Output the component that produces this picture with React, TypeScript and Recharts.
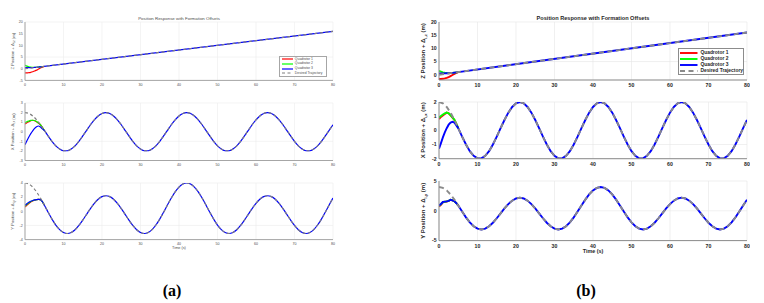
import { LineChart, Line, XAxis, YAxis, CartesianGrid } from "recharts";

// shared categories and labels
const timeTicks = [0, 10, 20, 30, 40, 50, 60, 70, 80];
const seriesNames = ["Quadrotor 1", "Quadrotor 2", "Quadrotor 3", "Desired Trajectory"];
const seriesColors = ["#ff0000", "#00ff00", "#0000ff", "#808080"];

// desired trajectories, read every second
const timeGrid = [
  0, 1, 2, 3, 4, 5, 6, 7, 8, 9, 10, 11, 12, 13, 14, 15, 16, 17, 18, 19, 20,
  21, 22, 23, 24, 25, 26, 27, 28, 29, 30, 31, 32, 33, 34, 35, 36, 37, 38, 39, 40,
  41, 42, 43, 44, 45, 46, 47, 48, 49, 50, 51, 52, 53, 54, 55, 56, 57, 58, 59, 60,
  61, 62, 63, 64, 65, 66, 67, 68, 69, 70, 71, 72, 73, 74, 75, 76, 77, 78, 79, 80,
];
const xDesired = [
  2.0, 1.91, 1.65, 1.25, 0.73, 0.15, -0.44, -1.0, -1.47, -1.8, -1.98, -1.98, -1.8, -1.47, -1.0, -0.44, 0.15, 0.73, 1.25, 1.65, 1.91,
  2.0, 1.91, 1.65, 1.25, 0.73, 0.15, -0.44, -1.0, -1.47, -1.8, -1.98, -1.98, -1.8, -1.47, -1.0, -0.44, 0.15, 0.73, 1.25, 1.65, 1.91,
  2.0, 1.91, 1.65, 1.25, 0.73, 0.15, -0.44, -1.0, -1.47, -1.8, -1.98, -1.98, -1.8, -1.47, -1.0, -0.44, 0.15, 0.73, 1.25, 1.65, 1.91,
  2.0, 1.91, 1.65, 1.25, 0.73, 0.15, -0.44, -1.0, -1.47, -1.8, -1.98, -1.98, -1.8, -1.47, -1.0, -0.44, 0.15, 0.73,
];
const yDesired = [
  4.0, 3.85, 3.42, 2.74, 1.87, 0.89, -0.13, -1.1, -1.94, -2.59, -3.0, -3.14, -2.99, -2.6, -2.0, -1.25, -0.43, 0.39, 1.12, 1.7, 2.07,
  2.2, 2.07, 1.7, 1.12, 0.39, -0.43, -1.25, -2.0, -2.6, -2.99, -3.14, -3.0, -2.59, -1.94, -1.1, -0.13, 0.89, 1.87, 2.74, 3.42, 3.85,
  4.0, 3.85, 3.42, 2.74, 1.87, 0.89, -0.13, -1.1, -1.94, -2.59, -3.0, -3.14, -2.99, -2.6, -2.0, -1.25, -0.43, 0.39, 1.12, 1.7, 2.07,
  2.2, 2.07, 1.7, 1.12, 0.39, -0.43, -1.25, -2.0, -2.6, -2.99, -3.14, -3.0, -2.59, -1.94, -1.1, -0.13, 0.89, 1.87,
];
const zTimes = [0, 80];
const zDesired = [0, 16];

// start-up transients, every half second up to 5 s
const startTimes = [0, 0.5, 1, 1.5, 2, 2.5, 3, 3.5, 4, 4.5, 5];

// (a)
const zQ1a = [-1.8, -1.8, -1.7, -1.55, -1.3, -1.0, -0.6, -0.15, 0.3, 0.7, 1.0];
const zQ2a = [1.5, 1.1, 0.85, 0.7, 0.6, 0.55, 0.6, 0.7, 0.8, 0.9, 1.0];
const zQ3a = [0.5, 0.5, 0.5, 0.5, 0.5, 0.55, 0.6, 0.7, 0.8, 0.9, 1.0];
const xQ1a = [0.8, 0.95, 1.05, 1.15, 1.2, 1.15, 1.05, 0.9, 0.73, 0.45, 0.15];
const xQ2a = [0.95, 1.05, 1.12, 1.18, 1.2, 1.17, 1.08, 0.92, 0.75, 0.45, 0.15];
const xQ3a = [-1.35, -0.95, -0.55, -0.2, 0.1, 0.35, 0.52, 0.6, 0.5, 0.3, 0.15];
const yQ1a = [0.6, 0.85, 1.1, 1.3, 1.45, 1.57, 1.65, 1.68, 1.65, 1.38, 0.89];
const yQ2a = [0.75, 1.0, 1.2, 1.38, 1.5, 1.6, 1.66, 1.68, 1.65, 1.38, 0.89];
const yQ3a = [0.85, 1.08, 1.27, 1.42, 1.53, 1.61, 1.66, 1.68, 1.65, 1.38, 0.89];

// (b)
const zQ1b = [-1.6, -1.6, -1.55, -1.4, -1.2, -0.9, -0.5, -0.1, 0.3, 0.7, 1.0];
const zQ2b = [1.5, 1.2, 0.9, 0.75, 0.65, 0.6, 0.62, 0.7, 0.8, 0.9, 1.0];
const zQ3b = [0.5, 0.5, 0.5, 0.52, 0.55, 0.58, 0.62, 0.7, 0.8, 0.9, 1.0];
const xQ1b = [0.8, 0.95, 1.05, 1.15, 1.25, 1.2, 1.05, 0.9, 0.73, 0.45, 0.15];
const xQ2b = [0.9, 1.02, 1.12, 1.2, 1.25, 1.2, 1.08, 0.92, 0.75, 0.45, 0.15];
const xQ3b = [-1.3, -0.9, -0.5, -0.15, 0.15, 0.4, 0.55, 0.6, 0.55, 0.35, 0.15];
const yQ1b = [0.7, 1.0, 1.4, 1.5, 1.55, 1.65, 1.85, 1.75, 1.6, 1.3, 0.89];
const yQ2b = [0.85, 1.1, 1.45, 1.52, 1.57, 1.67, 1.85, 1.75, 1.6, 1.3, 0.89];
const yQ3b = [0.9, 1.15, 1.48, 1.53, 1.58, 1.68, 1.85, 1.75, 1.6, 1.3, 0.89];

type Pt = { t: number; v: number };
const toRows = (ts: number[], vs: number[]): Pt[] => ts.map((t, i) => ({ t, v: vs[i] }));
// Quadrotor 3 stays on top of the desired curve once it has converged
const withTail = (start: number[], ts: number[], desired: number[]): Pt[] => [
  ...toRows(startTimes, start),
  ...toRows(ts, desired).filter((p) => p.t > 5),
];

type Look = {
  font: string;
  weight: number;
  tick: number;
  text: string;
  box: string;
  grid: string;
  width: number;
  dash: string;
  dashColor: string;
  curve: "monotone" | "linear";
  label: number;
};

const lookA: Look = {
  font: "'Liberation Sans', Arial, sans-serif",
  weight: 400,
  tick: 3.6,
  text: "#4d4d4d",
  box: "#a6a6a6",
  grid: "#ececec",
  width: 1.2,
  dash: "3 2.5",
  dashColor: "#7f7f7f",
  curve: "monotone",
  label: 4.2,
};

const lookB: Look = {
  font: "'Liberation Sans', Arial, sans-serif",
  weight: 700,
  tick: 5.2,
  text: "#262626",
  box: "#8c8c8c",
  grid: "#e6e6e6",
  width: 1.9,
  dash: "5 3.5",
  dashColor: "#8a8a8a",
  curve: "linear",
  label: 6,
};

type PanelProps = {
  look: Look;
  left: number;
  top: number;
  height: number;
  domain: [number, number];
  ticks: number[];
  axis: string;
  sub: string;
  labelX: number;
  series: Pt[][];
  desired: Pt[];
};

function Panel({ look, left, top, height, domain, ticks, axis, sub, labelX, series, desired }: PanelProps) {
  const axisW = 30;
  const pad = 3;
  const xAxisH = 12;
  const plotW = 308;
  const chartLeft = left - axisW;
  const cx = labelX - chartLeft;
  const cy = pad + height / 2;
  const tickStyle = { fontSize: look.tick, fill: look.text, fontWeight: look.weight, fontFamily: look.font };
  return (
    <div style={{ position: "absolute", left: chartLeft, top: top - pad }}>
      <LineChart
        width={axisW + plotW + pad}
        height={pad + height + xAxisH}
        margin={{ top: pad, right: pad, bottom: 0, left: 0 }}
      >
        <CartesianGrid stroke={look.grid} strokeWidth={0.6} />
        <XAxis
          dataKey="t"
          type="number"
          domain={[0, 80]}
          ticks={timeTicks}
          height={xAxisH}
          tickSize={0}
          tickMargin={look.weight > 400 ? 3.4 : 3}
          axisLine={{ stroke: look.box }}
          tick={tickStyle}
          allowDataOverflow
        />
        <XAxis
          xAxisId="top"
          orientation="top"
          type="number"
          domain={[0, 80]}
          height={0}
          tick={false}
          tickLine={false}
          axisLine={{ stroke: look.box }}
        />
        <YAxis
          type="number"
          domain={domain}
          ticks={ticks}
          width={axisW}
          tickSize={0}
          tickMargin={2.3}
          axisLine={{ stroke: look.box }}
          tick={tickStyle}
          allowDataOverflow
          label={{
            content: () => (
              <text
                x={cx}
                y={cy}
                transform={`rotate(-90 ${cx} ${cy})`}
                textAnchor="middle"
                dominantBaseline="central"
                fontSize={look.label}
                fontWeight={look.weight}
                fontFamily={look.font}
                fill={look.text}
              >
                {axis} Position + Δ
                <tspan fontSize={look.label * 0.7} dy={look.label * 0.3}>
                  {sub}
                </tspan>
                <tspan dy={-look.label * 0.3}> (m)</tspan>
              </text>
            ),
          }}
        />
        <YAxis
          yAxisId="r"
          orientation="right"
          width={0}
          domain={[0, 1]}
          tick={false}
          tickLine={false}
          axisLine={{ stroke: look.box }}
        />
        {series.map((d, i) => (
          <Line
            key={seriesNames[i]}
            name={seriesNames[i]}
            data={d}
            dataKey="v"
            type={look.curve}
            stroke={seriesColors[i]}
            strokeWidth={look.width}
            dot={false}
            activeDot={false}
            isAnimationActive={false}
          />
        ))}
        <Line
          name={seriesNames[3]}
          data={desired}
          dataKey="v"
          type={look.curve}
          stroke={look.dashColor}
          strokeWidth={look.width}
          strokeDasharray={look.dash}
          dot={false}
          activeDot={false}
          isAnimationActive={false}
        />
      </LineChart>
    </div>
  );
}

type LegendProps = {
  look: Look;
  left: number;
  top: number;
  width: number;
  height: number;
  rowTop: number;
  gap: number;
  lineW: number;
  fontSize: number;
};

function LegendBox({ look, left, top, width, height, rowTop, gap, lineW, fontSize }: LegendProps) {
  return (
    <div
      style={{
        position: "absolute",
        left,
        top,
        width,
        height,
        boxSizing: "border-box",
        border: `1px solid ${look.box}`,
        background: "#fff",
      }}
    >
      {seriesNames.map((name, i) => (
        <div
          key={name}
          style={{
            position: "absolute",
            left: 1.5,
            top: rowTop + i * gap - fontSize / 2,
            height: fontSize,
            display: "flex",
            alignItems: "center",
            whiteSpace: "nowrap",
          }}
        >
          <svg width={lineW} height={4} style={{ display: "block" }}>
            <line
              x1={0}
              y1={2}
              x2={lineW}
              y2={2}
              stroke={i === 3 ? look.dashColor : seriesColors[i]}
              strokeWidth={look.width}
              strokeDasharray={i === 3 ? look.dash : undefined}
            />
          </svg>
          <span
            style={{
              marginLeft: fontSize * 0.55,
              fontSize,
              lineHeight: 1,
              fontWeight: look.weight,
              fontFamily: look.font,
              color: look.text,
            }}
          >
            {name}
          </span>
        </div>
      ))}
    </div>
  );
}

function Caption({ text, cx, cy, size, look }: { text: string; cx: number; cy: number; size: number; look: Look }) {
  return (
    <div
      style={{
        position: "absolute",
        left: cx - 150,
        top: cy - size / 2,
        width: 300,
        textAlign: "center",
        fontSize: size,
        lineHeight: 1,
        fontWeight: look.weight,
        fontFamily: look.font,
        color: look.text,
        whiteSpace: "nowrap",
      }}
    >
      {text}
    </div>
  );
}

export default function App() {
  const zDesiredRows = toRows(zTimes, zDesired);
  const xDesiredRows = toRows(timeGrid, xDesired);
  const yDesiredRows = toRows(timeGrid, yDesired);

  return (
    <div style={{ position: "absolute", left: 0, top: 0, width: 764, height: 303, background: "#fff", overflow: "hidden" }}>
      {/* (a) */}
      <Caption text="Position Response with Formation Offsets" cx={179} cy={19.3} size={4.4} look={lookA} />
      <Panel
        look={lookA}
        left={25}
        top={22.3}
        height={58.4}
        domain={[-5, 20]}
        ticks={[-5, 0, 5, 10, 15, 20]}
        axis="Z"
        sub="i,z"
        labelX={12.7}
        series={[
          toRows(startTimes, zQ1a),
          toRows(startTimes, zQ2a),
          withTail(zQ3a, zTimes, zDesired),
        ]}
        desired={zDesiredRows}
      />
      <LegendBox look={lookA} left={279} top={56} width={48} height={20.7} rowTop={2.3} gap={4.7} lineW={11.5} fontSize={3.4} />
      <Panel
        look={lookA}
        left={25}
        top={102.5}
        height={57.5}
        domain={[-3, 3]}
        ticks={[-3, -2, -1, 0, 1, 2, 3]}
        axis="X"
        sub="i,x"
        labelX={12.7}
        series={[
          toRows(startTimes, xQ1a),
          toRows(startTimes, xQ2a),
          withTail(xQ3a, timeGrid, xDesired),
        ]}
        desired={xDesiredRows}
      />
      <Panel
        look={lookA}
        left={25}
        top={182.7}
        height={56.6}
        domain={[-4, 4]}
        ticks={[-4, -2, 0, 2, 4]}
        axis="Y"
        sub="i,y"
        labelX={12.7}
        series={[
          toRows(startTimes, yQ1a),
          toRows(startTimes, yQ2a),
          withTail(yQ3a, timeGrid, yDesired),
        ]}
        desired={yDesiredRows}
      />
      <Caption text="Time (s)" cx={179} cy={249.3} size={3.8} look={lookA} />
      <div
        style={{
          position: "absolute",
          left: 122,
          top: 283,
          width: 100,
          textAlign: "center",
          fontFamily: "'Liberation Serif', 'Times New Roman', serif",
          fontWeight: 700,
          fontSize: 16,
          lineHeight: 1,
        }}
      >
        (a)
      </div>

      {/* (b) */}
      <Caption text="Position Response with Formation Offsets" cx={593} cy={19} size={5.6} look={lookB} />
      <Panel
        look={lookB}
        left={439}
        top={22.3}
        height={58}
        domain={[-2, 20]}
        ticks={[0, 5, 10, 15, 20]}
        axis="Z"
        sub="i,z"
        labelX={423}
        series={[
          toRows(startTimes, zQ1b),
          toRows(startTimes, zQ2b),
          withTail(zQ3b, zTimes, zDesired),
        ]}
        desired={zDesiredRows}
      />
      <LegendBox look={lookB} left={677.7} top={48.3} width={66.6} height={26.4} rowTop={4} gap={6} lineW={17.5} fontSize={4.9} />
      <Panel
        look={lookB}
        left={439}
        top={102.3}
        height={56.7}
        domain={[-2, 2]}
        ticks={[-2, -1, 0, 1, 2]}
        axis="X"
        sub="i,x"
        labelX={423}
        series={[
          toRows(startTimes, xQ1b),
          toRows(startTimes, xQ2b),
          withTail(xQ3b, timeGrid, xDesired),
        ]}
        desired={xDesiredRows}
      />
      <Panel
        look={lookB}
        left={439}
        top={180.7}
        height={59.6}
        domain={[-5, 5]}
        ticks={[-5, 0, 5]}
        axis="Y"
        sub="i,y"
        labelX={423}
        series={[
          toRows(startTimes, yQ1b),
          toRows(startTimes, yQ2b),
          withTail(yQ3b, timeGrid, yDesired),
        ]}
        desired={yDesiredRows}
      />
      <Caption text="Time (s)" cx={593} cy={251.7} size={5.4} look={lookB} />
      <div
        style={{
          position: "absolute",
          left: 536,
          top: 283,
          width: 100,
          textAlign: "center",
          fontFamily: "'Liberation Serif', 'Times New Roman', serif",
          fontWeight: 700,
          fontSize: 16,
          lineHeight: 1,
        }}
      >
        (b)
      </div>
    </div>
  );
}
